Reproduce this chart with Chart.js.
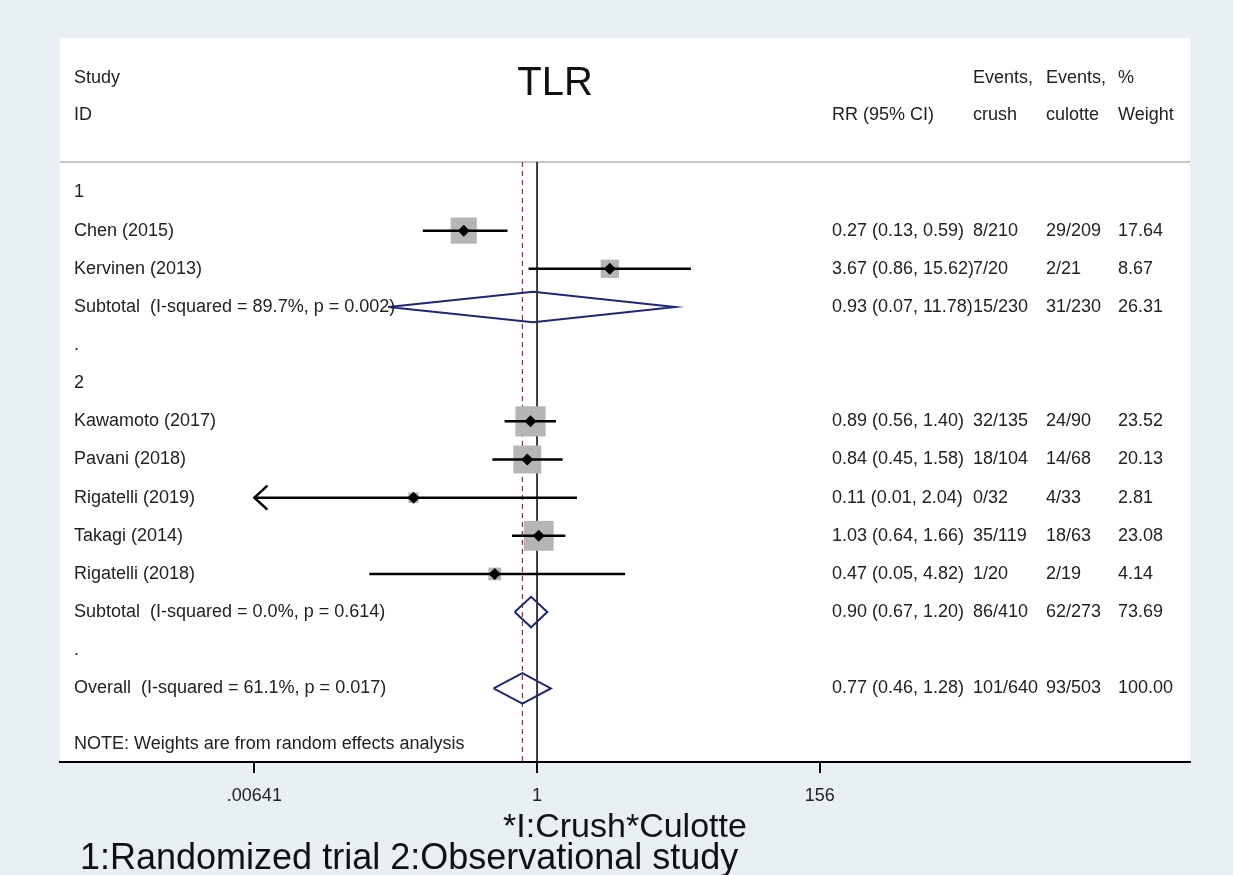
<!DOCTYPE html>
<html>
<head>
<meta charset="utf-8">
<title>TLR forest plot</title>
<script src="https://cdn.jsdelivr.net/npm/chart.js@4.4.1/dist/chart.umd.min.js"></script>
<style>
  html, body { margin: 0; padding: 0; background: #e8f0f3; }
  canvas { display: block; }
</style>
</head>
<body>
<canvas id="forestChart" width="1233" height="875"></canvas>
<script>
// Rows of the plot, top to bottom
const rowLabels = [
  "1",
  "Chen (2015)",
  "Kervinen (2013)",
  "Subtotal  (I-squared = 89.7%, p = 0.002)",
  ".",
  "2",
  "Kawamoto (2017)",
  "Pavani (2018)",
  "Rigatelli (2019)",
  "Takagi (2014)",
  "Rigatelli (2018)",
  "Subtotal  (I-squared = 0.0%, p = 0.614)",
  ".",
  "Overall  (I-squared = 61.1%, p = 0.017)",
];
const rowKinds = ["group", "study", "study", "pooled", "blank", "group", "study", "study", "study", "study", "study", "pooled", "blank", "pooled"];

// Risk ratio and 95% CI
const rr = [null, 0.27, 3.67, 0.93, null, null, 0.89, 0.84, 0.11, 1.03, 0.47, 0.90, null, 0.77];
const ciLow = [null, 0.13, 0.86, 0.07, null, null, 0.56, 0.45, 0.006, 0.64, 0.05, 0.67, null, 0.46];
const ciHigh = [null, 0.59, 15.62, 11.78, null, null, 1.40, 1.58, 2.04, 1.66, 4.82, 1.20, null, 1.28];

// Events and weights
const eventsCrush = ["", "8/210", "7/20", "15/230", "", "", "32/135", "18/104", "0/32", "35/119", "1/20", "86/410", "", "101/640"];
const eventsCulotte = ["", "29/209", "2/21", "31/230", "", "", "24/90", "14/68", "4/33", "18/63", "2/19", "62/273", "", "93/503"];
const weights = [null, 17.64, 8.67, 26.31, null, null, 23.52, 20.13, 2.81, 23.08, 4.14, 73.69, null, 100.0];

// Column headers
const headerTop = ["Study", "", "Events,", "Events,", "%"];
const headerBottom = ["ID", "RR (95% CI)", "crush", "culotte", "Weight"];

// Axis ticks
const tickValues = [0.00641, 1, 156];
const tickLabels = [".00641", "1", "156"];

const nullValue = 1;
const overallIndex = rowKinds.lastIndexOf("pooled");
const note = "NOTE: Weights are from random effects analysis";
const footnote = "1:Randomized trial 2:Observational study";

const FONT = '"Liberation Sans", Arial, sans-serif';
Chart.defaults.font.family = FONT;

const plotMin = tickValues[0];
const plotMax = tickValues[tickValues.length - 1];

// build datasets
const datasets = [];

// study markers (black diamonds) and weight boxes
const markerPts = [];
const boxPts = [];
const boxRadius = [];
rowKinds.forEach((k, i) => {
  if (k !== "study") return;
  markerPts.push({ x: rr[i], y: i });
  boxPts.push({ x: rr[i], y: i });
  boxRadius.push(4.4 * Math.sqrt(weights[i]));
});

datasets.push({
  data: markerPts,
  pointStyle: "rectRot",
  pointRadius: 6,
  backgroundColor: "#000",
  borderColor: "#000",
  borderWidth: 0,
  order: 1,
});

// CI lines
rowKinds.forEach((k, i) => {
  if (k !== "study") return;
  datasets.push({
    data: [
      { x: Math.max(ciLow[i], plotMin), y: i },
      { x: Math.min(ciHigh[i], plotMax), y: i },
    ],
    showLine: true,
    borderColor: "#000",
    borderWidth: 2.5,
    pointRadius: 0,
    order: 2,
  });
});

// pooled diamonds
rowKinds.forEach((k, i) => {
  if (k !== "pooled") return;
  const h = 0.4;
  datasets.push({
    data: [
      { x: ciLow[i], y: i },
      { x: rr[i], y: i - h },
      { x: ciHigh[i], y: i },
      { x: rr[i], y: i + h },
      { x: ciLow[i], y: i },
    ],
    showLine: true,
    borderColor: "#1e2878",
    borderWidth: 2,
    pointRadius: 0,
    order: 2,
  });
});

datasets.push({
  data: boxPts,
  pointStyle: "rect",
  pointRadius: boxRadius,
  backgroundColor: "#b5b5b5",
  borderWidth: 0,
  order: 3,
});

// null line and overall line
datasets.push({
  data: [{ x: nullValue, y: -0.8 }, { x: nullValue, y: 15 }],
  showLine: true,
  borderColor: "#000",
  borderWidth: 1.5,
  pointRadius: 0,
  order: 4,
});
datasets.push({
  data: [{ x: rr[overallIndex], y: -0.8 }, { x: rr[overallIndex], y: 15 }],
  showLine: true,
  borderColor: "#9e2a3a",
  borderWidth: 1.2,
  borderDash: [5, 4],
  pointRadius: 0,
  order: 4,
});

const forestText = {
  id: "forestText",
  beforeDraw(chart) {
    const { ctx, chartArea: a } = chart;
    ctx.save();
    ctx.fillStyle = "#ffffff";
    ctx.fillRect(a.left, a.top, a.right - a.left, a.bottom - a.top);
    ctx.restore();
  },
  beforeDatasetsDraw(chart) {
    const { ctx, chartArea: a, scales } = chart;
    const yy = scales.y.getPixelForValue(-0.8);
    ctx.save();
    ctx.strokeStyle = "#c6c6c6";
    ctx.lineWidth = 2;
    ctx.beginPath();
    ctx.moveTo(a.left, yy);
    ctx.lineTo(a.right, yy);
    ctx.stroke();
    ctx.restore();
  },
  afterDraw(chart) {
    const { ctx, scales } = chart;
    const x = scales.x, y = scales.y;
    const cols = [74, 832, 973, 1046, 1118];
    ctx.save();
    ctx.textBaseline = "middle";
    ctx.textAlign = "left";
    ctx.fillStyle = "#222";
    ctx.font = "18px " + FONT;

    headerTop.forEach((t, c) => ctx.fillText(t, cols[c], y.getPixelForValue(-3)));
    headerBottom.forEach((t, c) => ctx.fillText(t, cols[c], y.getPixelForValue(-2.03)));

    rowLabels.forEach((lab, i) => {
      const py = y.getPixelForValue(i);
      ctx.fillText(lab, cols[0], py);
      if (rr[i] == null) return;
      ctx.fillText(rr[i].toFixed(2) + " (" + ciLow[i].toFixed(2) + ", " + ciHigh[i].toFixed(2) + ")", cols[1], py);
      ctx.fillText(eventsCrush[i], cols[2], py);
      ctx.fillText(eventsCulotte[i], cols[3], py);
      ctx.fillText(weights[i].toFixed(2), cols[4], py);
    });

    ctx.fillText(note, cols[0], y.getPixelForValue(14.46));

    // arrows for clipped CIs
    ctx.strokeStyle = "#000";
    ctx.lineWidth = 2.5;
    rowKinds.forEach((k, i) => {
      if (k !== "study" || ciLow[i] >= plotMin) return;
      const px = x.getPixelForValue(plotMin);
      const py = y.getPixelForValue(i);
      ctx.beginPath();
      ctx.moveTo(px + 13, py - 12);
      ctx.lineTo(px, py);
      ctx.lineTo(px + 13, py + 12);
      ctx.stroke();
    });

    // title
    ctx.fillStyle = "#111";
    ctx.textAlign = "center";
    ctx.font = "40px " + FONT;
    ctx.fillText("TLR", 555, y.getPixelForValue(-2.85));

    // footnote
    ctx.textAlign = "left";
    ctx.font = "36px " + FONT;
    ctx.fillText(footnote, 80, 859);
    ctx.restore();
  },
};

new Chart(document.getElementById("forestChart"), {
  type: "scatter",
  data: { datasets },
  options: {
    responsive: false,
    animation: false,
    layout: { padding: { left: 60, right: 43, top: 38, bottom: 0 } },
    plugins: { legend: { display: false }, tooltip: { enabled: false } },
    scales: {
      x: {
        type: "logarithmic",
        position: "bottom",
        min: 1.99e-4,
        max: 1.164e5,
        bounds: "data",
        afterBuildTicks: (s) => {
          s.ticks = tickValues.map((v) => ({ value: v }));
        },
        afterFit: (s) => {
          s.height = 113;
        },
        ticks: {
          callback: (v) => tickLabels[tickValues.indexOf(v)],
          font: { size: 18 },
          color: "#222",
          padding: 12,
          maxRotation: 0,
          autoSkip: false,
        },
        grid: { drawOnChartArea: false, drawTicks: true, tickLength: 11, color: "#000", lineWidth: 2 },
        border: { display: true, color: "#000", width: 2 },
        title: {
          display: true,
          text: "*I:Crush*Culotte",
          font: { size: 34 },
          color: "#111",
          padding: { top: 0, bottom: 27 },
        },
      },
      y: {
        type: "linear",
        reverse: true,
        min: -4.05,
        max: 14.93,
        display: false,
      },
    },
  },
  plugins: [forestText],
});
</script>
</body>
</html>
